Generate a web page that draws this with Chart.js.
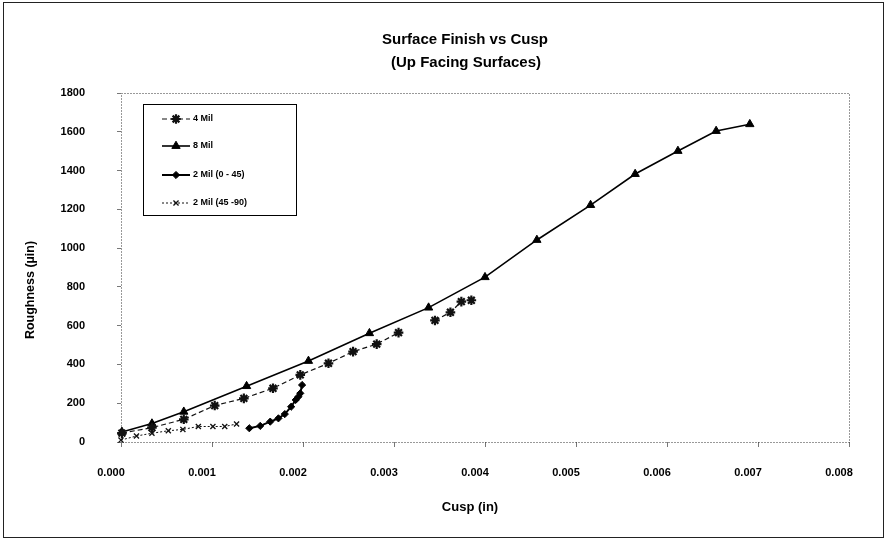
<!DOCTYPE html>
<html><head><meta charset="utf-8">
<script src="https://cdn.jsdelivr.net/npm/chart.js@4"></script>
<style>html,body{margin:0;padding:0;background:#fff}#wrap{width:886px;height:542px;position:relative}</style>
</head><body><div id="wrap"><canvas id="c" width="886" height="542"></canvas></div>
<script>
const FONT = "'Liberation Sans', Arial, Helvetica, sans-serif";

// ---- text ----
const chartTitle = 'Surface Finish vs Cusp';
const chartSubtitle = '(Up Facing Surfaces)';
const xAxisTitle = 'Cusp (in)';
const yAxisTitle = 'Roughness (µin)';
const seriesNames = ['4 Mil', '8 Mil', '2 Mil (0 - 45)', '2 Mil (45 -90)'];

// ---- axis ticks ----
const xTicks = [0, 0.001, 0.002, 0.003, 0.004, 0.005, 0.006, 0.007, 0.008];
const yTicks = [0, 200, 400, 600, 800, 1000, 1200, 1400, 1600, 1800];

// ---- series values ----
const mil4Cusp  = [0.00001, 0.00034, 0.00069, 0.00103, 0.00135, 0.00167, 0.00197, 0.00228, 0.00255, 0.00281, 0.00305, 0.00345, 0.00362, 0.00374, 0.00385];
const mil4Rough = [46, 74, 117, 188, 225, 277, 346, 406, 466, 505, 564, 627, 669, 724, 731];
const mil4BreakAfter = 10; // line is not drawn between point 10 and 11

const mil8Cusp  = [0.00001, 0.00034, 0.00069, 0.00138, 0.00206, 0.00273, 0.00338, 0.00400, 0.00457, 0.00516, 0.00565, 0.00612, 0.00654, 0.00691];
const mil8Rough = [52, 95, 156, 288, 418, 561, 693, 850, 1042, 1222, 1382, 1501, 1604, 1639];

const mil2aCusp  = [0.00141, 0.00153, 0.00164, 0.00173, 0.00180, 0.00187, 0.00192, 0.00195, 0.00197, 0.00199];
const mil2aRough = [71, 83, 105, 122, 144, 182, 217, 234, 251, 294];

const mil2bCusp  = [0.00000, 0.00017, 0.00034, 0.00052, 0.00068, 0.00085, 0.00101, 0.00114, 0.00127];
const mil2bRough = [10, 31, 45, 58, 65, 80, 80, 80, 93];

const pts = (xs, ys) => xs.map((x, i) => ({x: x, y: ys[i]}));

const datasets = [
  { label: seriesNames[0], data: pts(mil4Cusp, mil4Rough),
    borderColor: '#111', backgroundColor: '#111', borderWidth: 1.2, borderDash: [5, 3],
    pointStyle: 'star', pointRadius: 4.8, pointBorderWidth: 2.2,
    segment: { borderColor: c => c.p0DataIndex === mil4BreakAfter ? 'rgba(0,0,0,0)' : undefined } },
  { label: seriesNames[1], data: pts(mil8Cusp, mil8Rough),
    borderColor: '#000', backgroundColor: '#000', borderWidth: 1.6,
    pointStyle: 'triangle', pointRadius: 4.8, pointBorderWidth: 1 },
  { label: seriesNames[2], data: pts(mil2aCusp, mil2aRough),
    borderColor: '#000', backgroundColor: '#000', borderWidth: 2,
    pointStyle: 'rectRot', pointRadius: 3.6, pointBorderWidth: 1 },
  { label: seriesNames[3], data: pts(mil2bCusp, mil2bRough),
    borderColor: '#111', backgroundColor: '#111', borderWidth: 1, borderDash: [2, 2],
    pointStyle: 'crossRot', pointRadius: 3.6, pointBorderWidth: 1.3 }
];
datasets.forEach(d => { d.clip = false; d.tension = 0; d.fill = false; });

const framePlugin = {
  id: 'frame',
  beforeDraw(chart) {
    const ctx = chart.ctx;
    ctx.save();
    ctx.fillStyle = '#fff';
    ctx.fillRect(0, 0, chart.width, chart.height);
    ctx.strokeStyle = '#222';
    ctx.lineWidth = 1;
    ctx.strokeRect(3.5, 2.5, 880, 535);
    ctx.restore();
  },
  beforeDatasetsDraw(chart) {
    const a = chart.chartArea, ctx = chart.ctx;
    ctx.save();
    ctx.strokeStyle = '#333';
    ctx.lineWidth = 1;
    ctx.setLineDash([1, 2]);
    ctx.strokeRect(Math.round(a.left) + 0.5, Math.round(a.top) + 0.5, Math.round(a.right - a.left), Math.round(a.bottom - a.top));
    ctx.restore();
  }
};

const textPlugin = {
  id: 'texts',
  afterDraw(chart) {
    const ctx = chart.ctx;
    ctx.save();
    ctx.fillStyle = '#000';
    ctx.textAlign = 'center';
    ctx.textBaseline = 'middle';
    ctx.font = 'bold 15px ' + FONT;
    ctx.fillText(chartTitle, 465, 40);
    ctx.fillText(chartSubtitle, 466, 63);
    ctx.font = 'bold 13px ' + FONT;
    ctx.fillText(xAxisTitle, 470, 507);
    ctx.translate(31, 290);
    ctx.rotate(-Math.PI / 2);
    ctx.font = 'bold 12.5px ' + FONT;
    ctx.fillText(yAxisTitle, 0, 0);
    ctx.restore();
  }
};

const legendPlugin = {
  id: 'boxLegend',
  afterDraw(chart) {
    const ctx = chart.ctx;
    const rowY = [119, 146, 175, 203];
    ctx.save();
    ctx.strokeStyle = '#000';
    ctx.lineWidth = 1;
    ctx.setLineDash([]);
    ctx.fillStyle = '#fff';
    ctx.fillRect(143.5, 104.5, 153, 111);
    ctx.strokeRect(143.5, 104.5, 153, 111);
    chart.data.datasets.forEach((ds, i) => {
      const y = rowY[i];
      ctx.save();
      ctx.strokeStyle = ds.borderColor;
      ctx.lineWidth = ds.borderWidth;
      ctx.setLineDash(ds.borderDash || []);
      ctx.beginPath(); ctx.moveTo(162, y); ctx.lineTo(190, y); ctx.stroke();
      ctx.setLineDash([]);
      ctx.fillStyle = ds.backgroundColor;
      ctx.strokeStyle = ds.borderColor;
      ctx.lineWidth = ds.pointBorderWidth;
      if (Chart.helpers && Chart.helpers.drawPoint) {
        Chart.helpers.drawPoint(ctx, {pointStyle: ds.pointStyle, radius: ds.pointRadius, rotation: 0, borderWidth: ds.pointBorderWidth}, 176, y);
      }
      ctx.restore();
      ctx.fillStyle = '#000';
      ctx.font = 'bold 9px ' + FONT;
      ctx.textAlign = 'left';
      ctx.textBaseline = 'middle';
      ctx.fillText(ds.label, 193, y);
    });
    ctx.restore();
  }
};

new Chart(document.getElementById('c'), {
  type: 'line',
  data: { datasets: datasets },
  options: {
    responsive: false,
    animation: false,
    devicePixelRatio: 1,
    layout: { padding: { left: 0, right: 37, top: 93, bottom: 0 } },
    plugins: {
      legend: { display: false },
      tooltip: { enabled: false },
      title: { display: false },
      subtitle: { display: false }
    },
    scales: {
      x: {
        type: 'linear', position: 'bottom',
        min: xTicks[0], max: xTicks[xTicks.length - 1],
        afterFit: s => { s.height = 100; },
        border: { display: false },
        grid: { display: true, drawOnChartArea: false, drawTicks: true, tickLength: 5, color: '#777' },
        title: { display: false },
        ticks: {
          stepSize: xTicks[1] - xTicks[0], autoSkip: false, maxRotation: 0,
          padding: 19, labelOffset: -10, color: '#000',
          font: { family: FONT, size: 11, weight: 'bold' },
          callback: v => Number(v).toFixed(3)
        }
      },
      y: {
        type: 'linear', position: 'left',
        min: yTicks[0], max: yTicks[yTicks.length - 1],
        afterFit: s => { s.width = 121; },
        border: { display: false },
        grid: { display: true, drawOnChartArea: false, drawTicks: true, tickLength: 4, color: '#777' },
        title: { display: false },
        ticks: {
          stepSize: yTicks[1] - yTicks[0], autoSkip: false,
          padding: 32, color: '#000',
          font: { family: FONT, size: 11, weight: 'bold' },
          callback: v => String(v)
        }
      }
    }
  },
  plugins: [framePlugin, textPlugin, legendPlugin]
});
</script>
</body></html>
